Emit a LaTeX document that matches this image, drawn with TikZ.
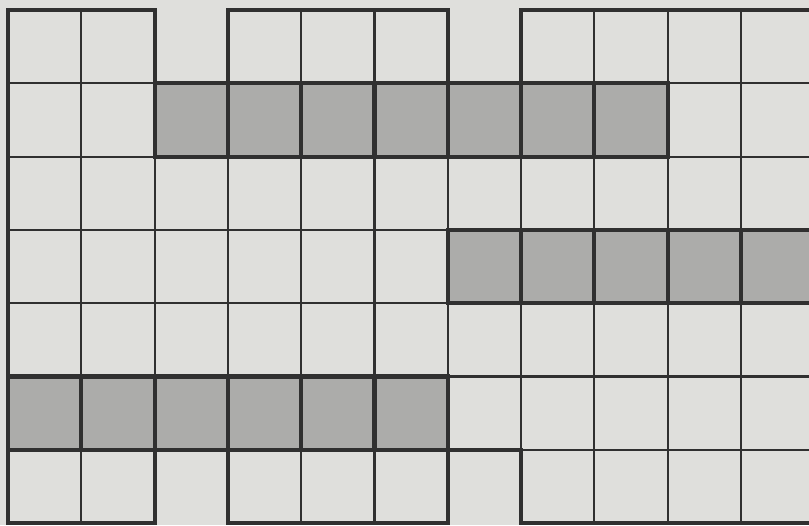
\documentclass[tikz,border=0pt]{standalone}
\definecolor{paper}{RGB}{223,223,220}
\definecolor{tint}{RGB}{172,172,170}
\definecolor{ink}{RGB}{48,48,48}

\begin{document}
\begin{tikzpicture}[
        thinline/.style={draw=ink, line width=0.8pt},
        thickline/.style={draw=ink, line width=1.6pt, line join=miter},
        shadedcell/.style={thickline, fill=tint}]
        \useasboundingbox[fill=paper] (-0.109,-0.027) rectangle (10.928,7.136);
        \clip (-0.109,-0.027) rectangle (10.928,7.136);
        \foreach \x in {1,...,10}
                \draw[thinline] (\x,0) -- (\x,7);
        \foreach \y in {1,...,6}
                \draw[thinline] (0,\y) -- (11,\y);
        \foreach \x in {2,...,8}
                \draw[shadedcell] (\x,5) rectangle ++(1,1);
        \foreach \x in {6,...,10}
                \draw[shadedcell] (\x,3) rectangle ++(1,1);
        \foreach \x in {0,...,5}
                \draw[shadedcell] (\x,1) rectangle ++(1,1);
        \draw[thickline] (11,7) -- (7,7) -- (7,6) -- (6,6) -- (6,7) -- (3,7) -- (3,6) -- (2,6) -- (2,7) -- (0,7)
                -- (0,0) -- (2,0) -- (2,1) -- (3,1) -- (3,0) -- (6,0) -- (6,1) -- (7,1) -- (7,0) -- (11,0);
\end{tikzpicture}
\end{document}
